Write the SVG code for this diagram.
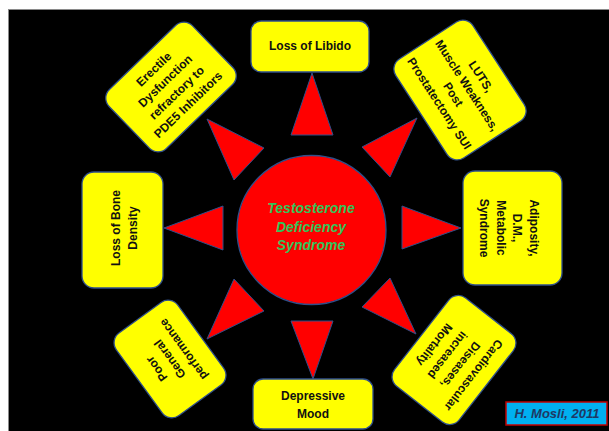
<svg xmlns="http://www.w3.org/2000/svg" width="609" height="431" viewBox="0 0 609 431">
  <style>
    .box { fill: #ffff00; stroke: #2f4f8a; stroke-width: 1.3; }
    .ray { fill: #ff0000; stroke: #2f4f8a; stroke-width: 1; }
    .lbl { font-family: "Liberation Sans", Arial, sans-serif; font-weight: bold; font-size: 12px; fill: #111; text-anchor: middle; }
    .core { font-family: "Liberation Sans", Arial, sans-serif; font-weight: bold; font-style: italic; font-size: 14px; fill: #33c45a; text-anchor: middle; }
    .credit { font-family: "Liberation Sans", Arial, sans-serif; font-weight: bold; font-style: italic; font-size: 13px; fill: #1f3864; text-anchor: middle; }
  </style>

  <!-- backdrop -->
  <rect x="8.5" y="9.5" width="601" height="422" fill="#000" stroke="#8a8a8a" stroke-width="1"/>

  <!-- rays pointing from the core to each symptom -->
  <g id="connectors">
    <polygon class="ray" points="312,73 291,135 333,135"/>
    <polygon class="ray" points="417,118 362,147 390,177"/>
    <polygon class="ray" points="461,228 402,206 402,249"/>
    <polygon class="ray" points="416,334 362,307 390,278"/>
    <polygon class="ray" points="313,379 291,321 333,321"/>
    <polygon class="ray" points="207,339 234,279 264,311"/>
    <polygon class="ray" points="164,228 223,206 223,250"/>
    <polygon class="ray" points="207,119 234,180 264,148"/>
  </g>

  <g id="core">
    <circle cx="311.5" cy="230" r="74.5" fill="#ff0000" stroke="#2f4f8a" stroke-width="1.3"/>
    <text class="core" x="311" y="213">Testosterone</text>
    <text class="core" x="311" y="232">Deficiency</text>
    <text class="core" x="311" y="250">Syndrome</text>
  </g>

  <g id="libido">
    <rect class="box" x="251" y="21" width="118" height="51" rx="10"/>
    <text class="lbl" x="310" y="50">Loss of Libido</text>
  </g>

  <g id="luts" transform="translate(460,90) rotate(57)">
    <rect class="box" x="-59" y="-46" width="118" height="92" rx="12"/>
    <text class="lbl" x="0" y="-20.75">LUTS,</text>
    <text class="lbl" x="0" y="-4.25">Muscle Weakness,</text>
    <text class="lbl" x="0" y="12.25">Post</text>
    <text class="lbl" x="0" y="28.75">Prostatectomy SUI</text>
  </g>

  <g id="metabolic">
    <rect class="box" x="463" y="171" width="99" height="114" rx="12"/>
    <g transform="translate(509,228) rotate(90)">
      <text class="lbl" x="0" y="-20.75">Adiposity,</text>
      <text class="lbl" x="0" y="-4.25">D.M.,</text>
      <text class="lbl" x="0" y="12.25">Metabolic</text>
      <text class="lbl" x="0" y="28.75">Syndrome</text>
    </g>
  </g>

  <g id="cardio" transform="translate(454,360) rotate(128)">
    <rect class="box" x="-56" y="-41" width="112" height="82" rx="12"/>
    <text class="lbl" x="0" y="-20.75">Cardiovascular</text>
    <text class="lbl" x="0" y="-4.25">Diseases,</text>
    <text class="lbl" x="0" y="12.25">increased</text>
    <text class="lbl" x="0" y="28.75">Mortality</text>
  </g>

  <g id="mood">
    <rect class="box" x="253" y="379" width="120" height="50" rx="10"/>
    <text class="lbl" x="313" y="400">Depressive</text>
    <text class="lbl" x="313" y="418">Mood</text>
  </g>

  <g id="performance" transform="translate(170,359) rotate(-126)">
    <rect class="box" x="-51" y="-38" width="102" height="76" rx="12"/>
    <text class="lbl" x="0" y="-12.5">Poor</text>
    <text class="lbl" x="0" y="4">General</text>
    <text class="lbl" x="0" y="20.5">performance</text>
  </g>

  <g id="bone">
    <rect class="box" x="82" y="172" width="81" height="116" rx="12"/>
    <g transform="translate(125,228) rotate(-90)">
      <text class="lbl" x="0" y="-5">Loss of Bone</text>
      <text class="lbl" x="0" y="12">Density</text>
    </g>
  </g>

  <g id="erectile" transform="translate(171,87) rotate(-44)">
    <rect class="box" x="-58" y="-41" width="116" height="82" rx="12"/>
    <text class="lbl" x="0" y="-20.75">Erectile</text>
    <text class="lbl" x="0" y="-4.25">Dysfunction</text>
    <text class="lbl" x="0" y="12.25">refractory to</text>
    <text class="lbl" x="0" y="28.75">PDE5 Inhibitors</text>
  </g>

  <g id="credit">
    <rect x="506" y="402" width="101" height="23" fill="#00b0f0" stroke="#c00000" stroke-width="1.5"/>
    <text class="credit" x="557" y="418">H. Mosli, 2011</text>
  </g>
</svg>
